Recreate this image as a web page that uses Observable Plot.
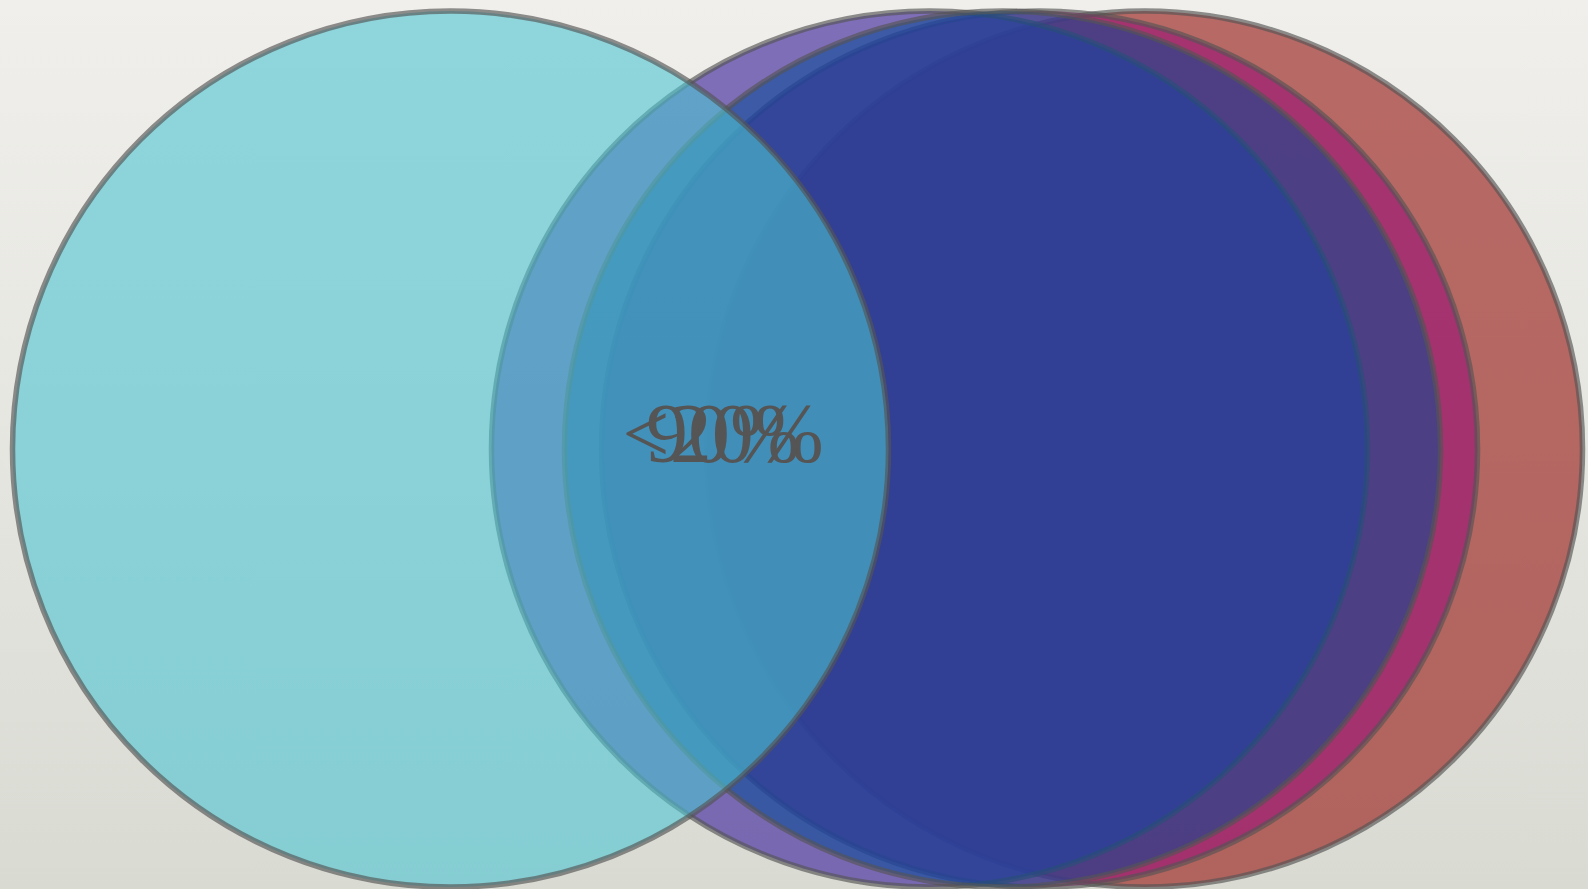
<!DOCTYPE html>
<html>
<head>
<meta charset="utf-8">
<script src="https://cdn.jsdelivr.net/npm/d3@7"></script>
<script src="https://cdn.jsdelivr.net/npm/@observablehq/plot@0.6"></script>
<style>
  html, body { margin: 0; padding: 0; overflow: hidden; }
  body {
    width: 1588px; height: 889px;
    background: linear-gradient(to bottom, #f0efeb 0%, #e6e6e1 50%, #d9dad2 100%);
  }
  #chart svg { display: block; background: transparent; }
</style>
</head>
<body>
<div id="chart"></div>
<script>
// Sets, drawn bottom to top
const sets      = ["D", "C", "A", "B", "E"];
const centersX  = [1144, 1039, 929, 1002, 450];
const centersY  = [448.6, 448.6, 448.6, 448.6, 448.6];
const radii     = [438, 438, 438, 438, 438];
const fills     = ["rgb(159,49,44)", "rgb(156,29,117)", "rgb(79,55,163)", "rgb(4,74,150)", "rgb(77,197,210)"];
const opacities = [0.7, 0.7, 0.7, 0.54, 0.6];

// Region labels
const labels  = ["<20%", "90%"];
const labelX  = [722.5, 722.5];
const labelY  = [435, 435];

const W = 1588, H = 889;

const circles = sets.map((s, i) => ({set: s, x: centersX[i], y: centersY[i], r: radii[i]}));
const labelData = labels.map((t, i) => ({text: t, x: labelX[i], y: labelY[i]}));

const marks = circles.map((c, i) => Plot.dot([c], {
  x: "x", y: "y", r: "r",
  fill: fills[i], fillOpacity: opacities[i],
  stroke: "#555555", strokeOpacity: 0.65, strokeWidth: 5.5
}));

marks.push(Plot.text(labelData, {
  x: "x", y: "y", text: "text",
  fill: "#555555", fontSize: 84,
  fontFamily: "Liberation Serif, serif",
  textAnchor: "middle"
}));

const chart = Plot.plot({
  width: W, height: H,
  margin: 0,
  x: {type: "linear", domain: [0, W], range: [0, W], axis: null},
  y: {type: "linear", domain: [0, H], range: [0, H], axis: null},
  r: {type: "identity"},
  style: {background: "transparent", overflow: "visible"},
  marks
});
document.getElementById("chart").appendChild(chart);
</script>
</body>
</html>
